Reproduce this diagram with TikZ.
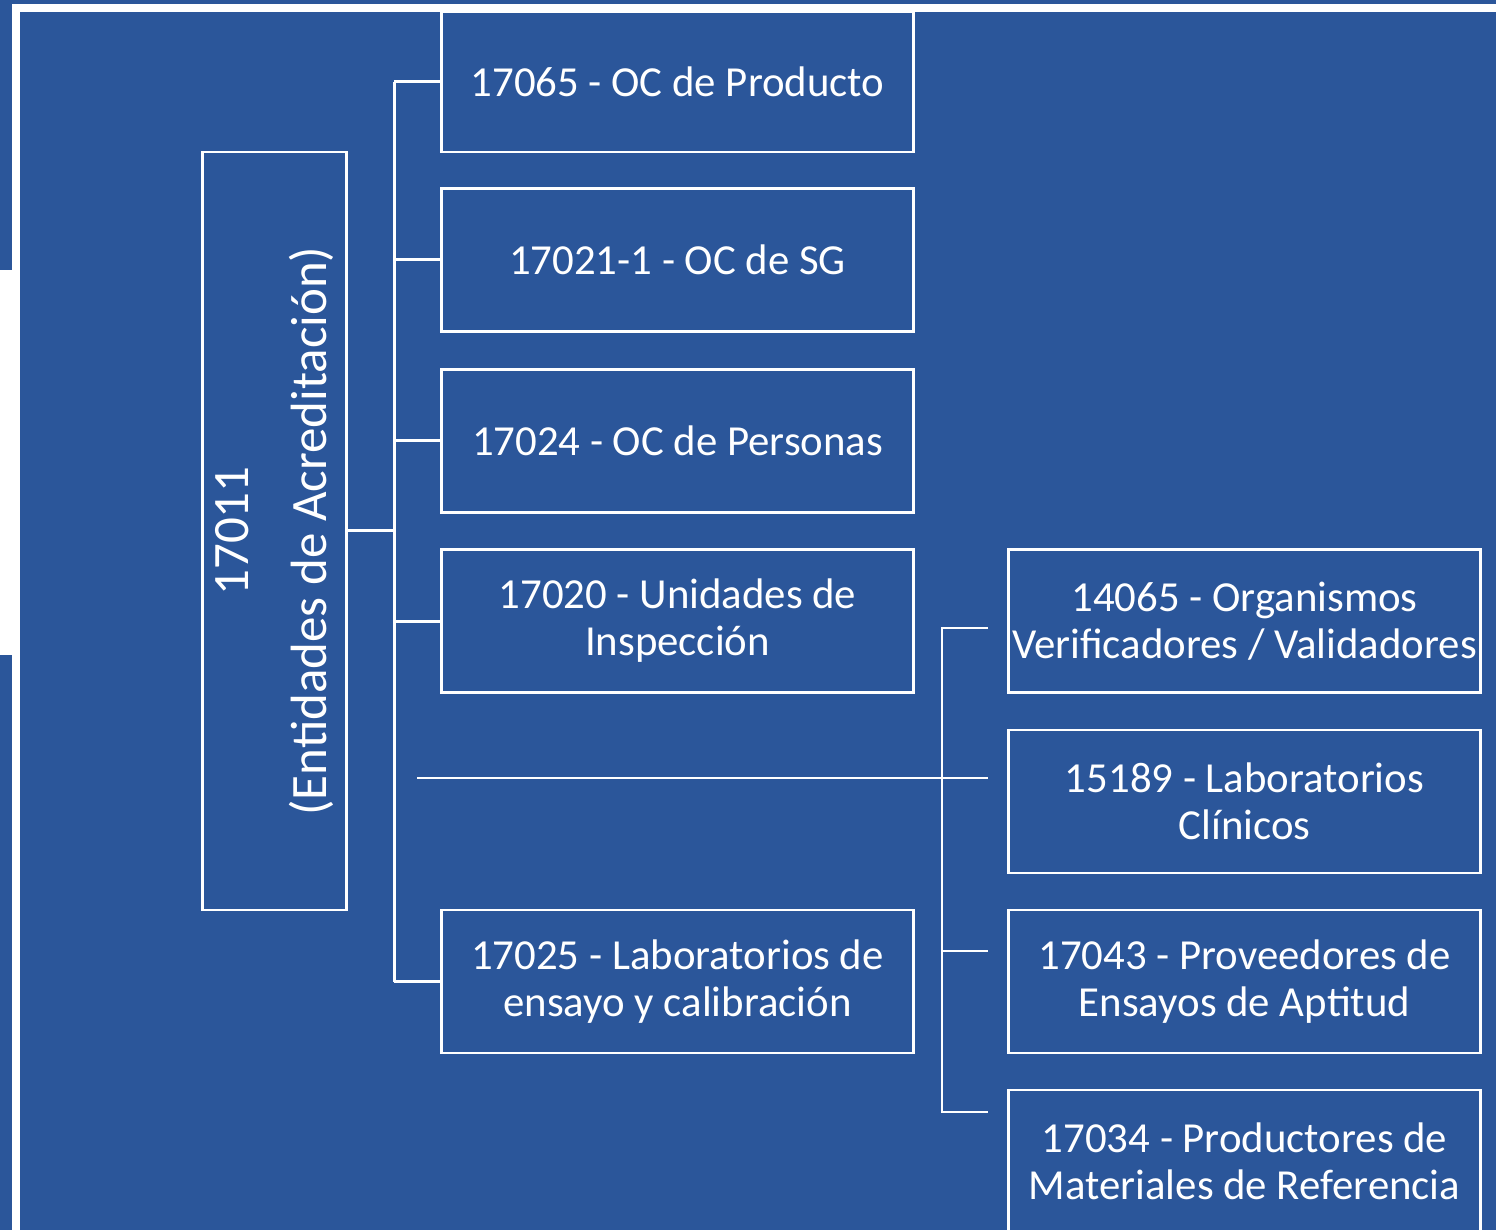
\documentclass[tikz,border=0pt]{standalone}
\usepackage{fontspec}
\setmainfont{Carlito}
\definecolor{bg}{RGB}{43,86,154}
\begin{document}
\begin{tikzpicture}[x=0.5pt,y=-0.5pt,
  box/.style={draw=white,line width=1.25pt,rectangle,inner sep=0pt,
    text=white,align=center,font=\fontsize{21.4pt}{23.5pt}\selectfont},
  colA/.style={box,minimum width=236pt,minimum height=71.5pt},
  colB/.style={box,minimum width=236pt,minimum height=71.5pt},
  conn/.style={draw=white,line width=1.5pt},
  thinconn/.style={draw=white,line width=0.8pt}]
\useasboundingbox (0,0) rectangle (1496,1230);
\fill[bg] (0,0) rectangle (1496,1230);
\fill[white] (0,270) rectangle (12,655);
\fill[white] (12,4) rectangle (1496,12);
\fill[white] (12,4) rectangle (20,1230);
% root
\node[box,minimum width=72pt,minimum height=379pt] (root) at (274.5,531) {};
\node[rotate=90,text=white,align=center,font=\fontsize{25.5pt}{28pt}\selectfont] (roottext) at (274,531)
  {17011\\[11pt](Entidades de Acreditación)};
% column A
\node[colA,minimum height=70pt] (b1) at (677.5,82) {17065 - OC de Producto};
\node[colA] (b2) at (677.5,260) {17021-1 - OC de SG};
\node[colA] (b3) at (677.5,441) {17024 - OC de Personas};
\node[colA] (b4) at (677.5,621) {17020 - Unidades de\\Inspección};
\node[colA] (b5) at (677.5,981.5) {17025 - Laboratorios de\\ensayo y calibración};
% column B
\node[colB] (c1) at (1244.5,621) {14065 - Organismos\\Verificadores / Validadores};
\node[colB] (c2) at (1244.5,801.5) {15189 - Laboratorios\\Clínicos};
\node[colB] (c3) at (1244.5,981.5) {17043 - Proveedores de\\Ensayos de Aptitud};
\node[colB] (c4) at (1244.5,1161.5) {17034 - Productores de\\Materiales de Referencia};
% thick connectors
\coordinate (t) at (394,531);
\draw[conn] (root.east) -- (t);
\draw[conn] (b1.west -| t) -- (b5.west -| t);
\foreach \n in {b1,b2,b3,b4,b5}{\draw[conn] (\n.west) -- (\n.west -| t);}
% thin connectors
\coordinate (hL) at (417,778);
\coordinate (hR) at (988,778);
\coordinate (v1) at (942,628);
\coordinate (v3) at (942,951);
\coordinate (v4) at (942,1112);
\coordinate (s1) at (988,628);
\coordinate (s3) at (988,951);
\coordinate (s4) at (988,1112);
\draw[thinconn] (hL) -- (hR);
\draw[thinconn] (s1) -- (v1) -- (v4) -- (s4);
\draw[thinconn] (v3) -- (s3);
\end{tikzpicture}
\end{document}
